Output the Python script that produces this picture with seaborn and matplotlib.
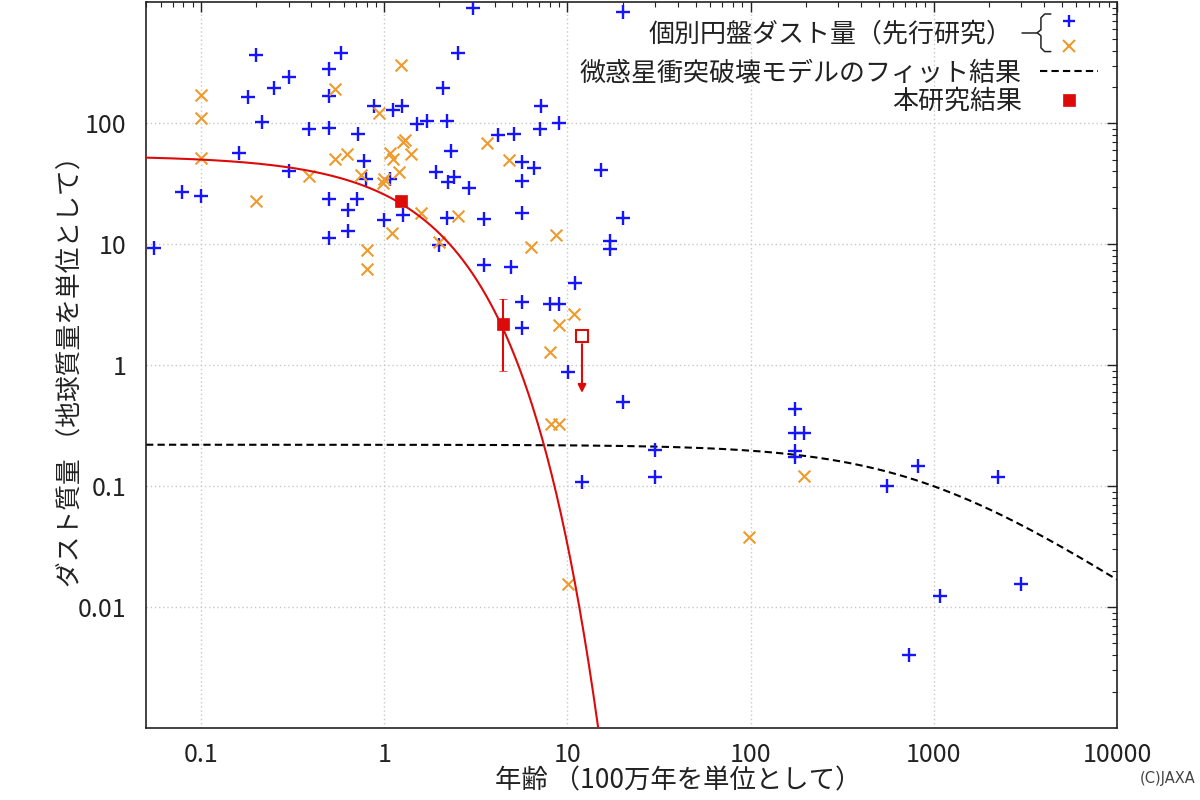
import numpy as np
import pandas as pd
import seaborn as sns
import matplotlib.pyplot as plt
from matplotlib.lines import Line2D
from matplotlib.legend_handler import HandlerBase
from matplotlib.ticker import LogLocator, NullFormatter

### values

# previous studies, blue "+"
blue_age = [0.20, 0.58, 0.30, 0.25, 0.18, 0.50, 0.50, 0.215, 0.39, 0.50,
            0.16, 0.30, 0.079, 0.10, 0.50, 0.50, 0.055, 3.05, 2.53, 2.09,
            0.88, 1.12, 1.25, 1.51, 1.71, 2.20, 0.72, 4.18, 5.11, 7.18,
            7.09, 2.31, 0.77, 5.65, 6.58, 1.92, 2.23, 2.40, 2.90, 5.65,
            0.79, 1.07, 0.71, 0.63, 0.63, 1.00, 1.26, 2.20, 3.50, 5.65,
            1.99, 3.50, 4.92, 5.65, 5.65, 20.2, 9.0, 15.3, 20.2, 17.1,
            17.1, 11.0, 8.05, 9.0, 10.1, 20.2, 30.1, 30.1, 12.0, 175,
            175, 196, 175, 175, 558, 815, 2230, 3010, 1075, 728]
blue_mass = [367, 381, 241, 196, 165, 281, 168, 102, 90, 91,
             57, 40, 27, 25, 23.7, 11.3, 9.3, 897, 381, 196,
             139, 129, 139, 98.7, 104, 104, 81.6, 80, 82, 139,
             90, 59, 48.8, 47.9, 42.7, 39.6, 32.7, 36, 29.2, 33.4,
             34.7, 34.7, 23.7, 19.2, 12.9, 15.9, 17.5, 16.5, 16.2, 18.1,
             9.87, 6.75, 6.49, 3.34, 2.03, 831, 100, 41.1, 16.5, 10.6,
             9.15, 4.79, 3.21, 3.21, 0.88, 0.50, 0.20, 0.119, 0.109, 0.435,
             0.276, 0.276, 0.196, 0.175, 0.10, 0.147, 0.119, 0.0156, 0.0124, 0.0040]

# previous studies, orange "x"
orange_age = [0.10, 0.10, 0.10, 0.20, 0.39, 0.54, 0.54, 0.625, 1.23, 0.935,
              1.07, 1.12, 1.26, 1.30, 1.40, 1.20, 0.746, 1.00, 0.98, 3.64,
              4.80, 1.59, 2.53, 1.10, 1.99, 0.80, 0.80, 6.34, 8.67, 10.9,
              9.0, 8.05, 8.15, 9.0, 10.1, 196, 98]
orange_mass = [171, 111, 51.7, 22.8, 36.7, 192, 50.7, 55.8, 303, 122,
               57, 50.7, 70, 72.8, 55.8, 39.6, 37.4, 34.7, 32.1, 68.8,
               49.7, 18.1, 17.1, 12.4, 10.4, 8.97, 6.25, 9.5, 11.9, 2.65,
               2.15, 1.29, 0.327, 0.327, 0.0156, 0.122, 0.038]

# this work
ours_age = [1.23, 4.46]
ours_mass = [22.8, 2.19]
ours_lo = [22.8, 0.90]
ours_hi = [22.8, 3.53]
limit_age = [12.0]
limit_mass = [1.75]
limit_to = [0.59]

# fitted models: exp decay (this work) and collisional cascade
red_m0, red_tau = 54.0, 1.35
coll_m0, coll_tc = 0.22, 830.0

xticks = [0.1, 1, 10, 100, 1000, 10000]
xticklabels = ["0.1", "1", "10", "100", "1000", "10000"]
yticks = [0.01, 0.1, 1, 10, 100]
yticklabels = ["0.01", "0.1", "1", "10", "100"]

lab_prev = "個別円盤ダスト量（先行研究）"
lab_coll = "微惑星衝突破壊モデルのフィット結果"
lab_ours = "本研究結果"
xlab = "年齢 （100万年を単位として）"
ylab = "ダスト質量 （地球質量を単位として）"

BLUE = "#1414ff"
ORANGE = "#ee9a2c"
RED = "#dd0a0a"
INK = "#222222"

sns.set_style("white")
plt.rcParams['font.family'] = ['Noto Sans CJK JP', 'DejaVu Sans']

prev_b = pd.DataFrame({"age": blue_age, "mass": blue_mass})
prev_o = pd.DataFrame({"age": orange_age, "mass": orange_mass})

t_red = np.logspace(np.log10(0.05), np.log10(17), 400)
t_coll = np.logspace(np.log10(0.05), 4, 400)
fits = pd.DataFrame({"t_red": t_red, "m_red": red_m0 * np.exp(-t_red / red_tau),
                     "t_coll": t_coll, "m_coll": coll_m0 / (1 + t_coll / coll_tc)})

fig, ax = plt.subplots(figsize=(12, 8), dpi=100)
fig.subplots_adjust(left=0.1217, right=0.9308, bottom=0.09, top=0.997)
ax.set_xscale("log")
ax.set_yscale("log")

sns.scatterplot(data=prev_b, x="age", y="mass", marker="+", color=BLUE,
                s=90, linewidth=1.7, ax=ax, zorder=3)
sns.scatterplot(data=prev_o, x="age", y="mass", marker="x", color=ORANGE,
                s=72, linewidth=1.5, ax=ax, zorder=3)

sns.lineplot(data=fits, x="t_coll", y="m_coll", color="black", lw=1.5,
             ls=(0, (3.5, 2)), ax=ax, zorder=2)
sns.lineplot(data=fits, x="t_red", y="m_red", color=RED, lw=1.5, ax=ax, zorder=4)

# this work: error bar + squares
yerr = [np.array(ours_mass) - np.array(ours_lo), np.array(ours_hi) - np.array(ours_mass)]
ax.errorbar(ours_age, ours_mass, yerr=yerr, fmt="s", color=RED, ms=9,
            mew=0.5, elinewidth=1.5, capsize=3, capthick=1.5, zorder=5)
ax.plot(limit_age, limit_mass, "s", mfc="white", mec=RED, ms=8.5, mew=1.5, zorder=5)
for xa, y0, y1 in zip(limit_age, limit_mass, limit_to):
    ax.annotate("", xy=(xa, y1), xytext=(xa, y0),
                arrowprops=dict(arrowstyle="-|>", color=RED, lw=1.5,
                                shrinkA=6, shrinkB=0, mutation_scale=12))

ax.set_xlim(0.05, 10000)
ax.set_ylim(0.001, 1000)
ax.set_xticks(xticks)
ax.set_xticklabels(xticklabels)
ax.set_yticks(yticks)
ax.set_yticklabels(yticklabels)
ax.xaxis.set_minor_locator(LogLocator(base=10, subs=np.arange(2, 10), numticks=20))
ax.yaxis.set_minor_locator(LogLocator(base=10, subs=np.arange(2, 10), numticks=20))
ax.xaxis.set_minor_formatter(NullFormatter())
ax.yaxis.set_minor_formatter(NullFormatter())
ax.tick_params(which="both", direction="in", top=True, right=True, colors=INK)
ax.tick_params(which="major", length=7, width=1, labelsize=18)
ax.tick_params(which="minor", length=3.5, width=0.8)
ax.tick_params(axis="x", which="major", pad=10)
ax.tick_params(axis="y", which="major", pad=14)
ax.grid(True, which="major", color="#c8c8c8", lw=1, ls=(0, (1, 2)))
for sp in ax.spines.values():
    sp.set_color(INK)
    sp.set_linewidth(1.2)

ax.set_xlabel(xlab, fontsize=19, color=INK)
ax.set_ylabel(ylab, fontsize=18.5, color=INK)
ax.xaxis.set_label_coords(0.548, -0.054)
ax.yaxis.set_label_coords(-0.063, 0.5)


class BraceHandler(HandlerBase):
    # two markers stacked on the right, curly brace on the left
    def create_artists(self, legend, orig_handle, xdescent, ydescent,
                       width, height, fontsize, trans):
        top, bot = orig_handle
        x0, y0 = -xdescent, -ydescent
        w, h = width, height
        arts = []
        for hnd, fy in [(top, 0.82), (bot, 0.14)]:
            arts.append(Line2D([x0 + 0.62 * w], [y0 + fy * h], ls="none",
                               marker=hnd.get_marker(), color=hnd.get_color(),
                               ms=hnd.get_markersize(), mew=hnd.get_markeredgewidth()))
        bx = [0.38, 0.30, 0.25, 0.25, 0.20, 0.25, 0.25, 0.30, 0.38]
        by = [1.0, 1.0, 0.90, 0.58, 0.5, 0.42, 0.10, 0.0, 0.0]
        arts.append(Line2D([x0 + b * w for b in bx], [y0 + b * h for b in by],
                           color=INK, lw=1.1))
        arts.append(Line2D([x0, x0 + 0.2 * w], [y0 + 0.5 * h] * 2, color=INK, lw=1.1))
        for a in arts:
            a.set_transform(trans)
        return arts


fs = 18.7
px = fs * 100 / 72
h_blue = Line2D([], [], ls="none", marker="+", color=BLUE, ms=9, mew=1.7)
h_orange = Line2D([], [], ls="none", marker="x", color=ORANGE, ms=8, mew=1.5)
leg1 = ax.legend(handles=[(h_blue, h_orange)], labels=[lab_prev],
                 handler_map={tuple: BraceHandler()}, loc="upper right",
                 bbox_to_anchor=(0.9804, 0.984), frameon=False, markerfirst=False,
                 handlelength=76 / px, handleheight=48 / px, handletextpad=9 / px,
                 borderpad=0, borderaxespad=0, fontsize=fs)
for t in leg1.get_texts():
    t.set_color(INK)
ax.add_artist(leg1)

h_coll = Line2D([], [], color="black", lw=1.5, ls=(0, (3.5, 2)))
h_ours = Line2D([], [], ls="none", marker="s", color=RED, ms=9, mew=0.5)
leg2 = ax.legend(handles=[h_coll, h_ours], labels=[lab_coll, lab_ours],
                 loc="upper right", bbox_to_anchor=(0.9804, 0.922), frameon=False,
                 markerfirst=False, handlelength=58 / px, handletextpad=18 / px,
                 labelspacing=0.07, borderpad=0, borderaxespad=0, fontsize=fs)
for t in leg2.get_texts():
    t.set_color(INK)

fig.text(0.996, 0.027, "(C)JAXA", ha="right", va="center", fontsize=10.5,
         color="#444444", family=["Liberation Sans Narrow", "DejaVu Sans"])

fig.savefig("out.png", dpi=100, facecolor="white")
